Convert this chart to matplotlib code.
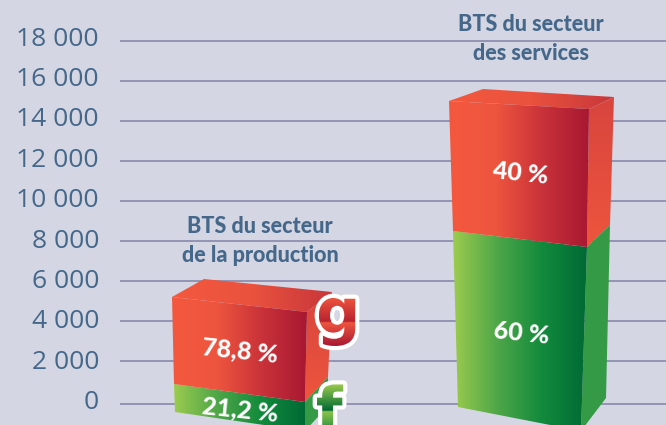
import numpy as np
import matplotlib
matplotlib.use('Agg')
import matplotlib.pyplot as plt
from matplotlib.colors import LinearSegmentedColormap
from matplotlib.patches import PathPatch, Polygon
from matplotlib.font_manager import FontProperties
from matplotlib.textpath import TextPath
from matplotlib.transforms import Affine2D

# y axis
tick_values = [0, 2000, 4000, 6000, 8000, 10000, 12000, 14000, 16000, 18000]
tick_labels = ['0', '2 000', '4 000', '6 000', '8 000', '10 000', '12 000', '14 000', '16 000', '18 000']

# bars, values read at the left edge of the front face
bar_names = ['BTS du secteur\nde la production', 'BTS du secteur\ndes services']
bar_top = [5185, 14985]
bar_split = [835, 8485]
bar_bottom = [-565, -315]
red_labels = ['78,8 %', '40 %']
green_labels = ['21,2 %', '60 %']

BG = '#d4d6e3'
GRID = '#8e8eb0'
BLUE = '#45688a'
PX = 50  # value units for one pixel
ZERO = 400.7  # pixel row of value 0


def py(row):
    return (ZERO - row) * PX


red_map = LinearSegmentedColormap.from_list('r', ['#f4593f', '#ee553e', '#c93239', '#a81832'])
green_map = LinearSegmentedColormap.from_list('g', ['#9ccb4e', '#4ea648', '#128a3c', '#006a35'])
top_map = LinearSegmentedColormap.from_list('t', ['#f4593f', '#ea523e', '#c7363a'])
side_map = LinearSegmentedColormap.from_list('s', ['#d8453d', '#ee553e'])
g_map = LinearSegmentedColormap.from_list('gg', [(0, '#f0563f'), (0.5, '#b8222f'), (0.52, '#ef5540'), (1, '#a81832')])
f_map = LinearSegmentedColormap.from_list('ff', [(0, '#9ccb4e'), (0.55, '#006a35'), (0.58, '#8cc24c'), (1, '#1a8a3c')])

fig = plt.figure(figsize=(6.66, 4.25), dpi=100, facecolor=BG)
ax = fig.add_axes([0, 0, 1, 1])
ax.set_facecolor(BG)
ax.axis('off')


def grad(verts, cmap, horizontal=True):
    # gradient image clipped on a polygon
    xs = [v[0] for v in verts]
    ys = [v[1] for v in verts]
    data = np.linspace(0, 1, 256).reshape(1, -1) if horizontal else np.linspace(0, 1, 256).reshape(-1, 1)
    im = ax.imshow(data, cmap=cmap, extent=[min(xs), max(xs), min(ys), max(ys)],
                   aspect='auto', zorder=3, interpolation='bilinear')
    im.set_clip_path(Polygon(verts, closed=True, transform=ax.transData))


for v, lab in zip(tick_values, tick_labels):
    # the zero line sits a bit lower than the regular step in the original
    line_y = v - 3.6 * PX if v == 0 else v
    ax.plot([120, 666], [line_y, line_y], color=GRID, lw=1.3, zorder=1, solid_capstyle='butt')
    ax.text(99, v * 1.01 - 2 * PX, lab, ha='right', va='center', color=BLUE, fontsize=19, family='Open Sans')

# geometry of each bar, pixel offsets for the skew
left = [(172, 174, 175), (449, 453, 458)]
right = [(307, 305, 305), (589, 587, 581)]
drop = [(15, 18, 19), (8, 16, 24)]
depth = [25, 23, 23], [25, 23, 25]
rise = [20, 25, 25], [12, 22, 33]
back = [(32, 18), (34, 12)]
red_pos = [(240, 351), (520, 173)]
green_pos = [(240, 410), (521, 333)]
title_pos = [(260, 241), (531, 39)]

for i in range(2):
    t, s, b = bar_top[i], bar_split[i], bar_bottom[i]
    lx, rx, dr, dp, rs = left[i], right[i], drop[i], depth[i], rise[i]
    tl = (lx[0], t)
    tr = (rx[0], t - dr[0] * PX)
    ml = (lx[1], s)
    mr = (rx[1], s - dr[1] * PX)
    bl = (lx[2], b)
    br = (rx[2], b - dr[2] * PX)
    # top face
    top = [tl, (lx[0] + back[i][0], t + back[i][1] * PX), (rx[0] + dp[0], tr[1] + rs[0] * PX), tr]
    grad(top, top_map)
    # right side
    sr = [tr, top[2], (rx[1] + dp[1], mr[1] + rs[1] * PX), mr]
    grad(sr, side_map, horizontal=False)
    sg = [mr, sr[2], (rx[2] + dp[2], br[1] + rs[2] * PX), br]
    ax.add_patch(Polygon(sg, closed=True, fc='#349a45', ec='none', zorder=3))
    # front
    grad([ml, mr, br, bl], green_map)
    grad([tl, tr, mr, ml], red_map)

    ax.text(red_pos[i][0], py(red_pos[i][1]), red_labels[i], color='white', fontsize=18, fontweight='black',
            family='Lato', ha='center', va='center', rotation=-6, zorder=5)
    ax.text(green_pos[i][0], py(green_pos[i][1]), green_labels[i], color='white', fontsize=18, fontweight='black',
            family='Lato', ha='center', va='center', rotation=-6, zorder=5)
    ax.text(title_pos[i][0], py(title_pos[i][1]), bar_names[i], color=BLUE, fontsize=15.5, fontweight='black',
            family='Lato', ha='center', va='center', linespacing=1.45, zorder=2)


def letter(ch, x, row, size, cmap):
    # outlined letter with a vertical gradient
    fp = FontProperties(family='DejaVu Sans', weight='bold')
    tp = TextPath((0, 0), ch, size=size, prop=fp)
    ext = tp.get_extents()
    tr = Affine2D().translate(-ext.x0 - ext.width / 2, -ext.y0 - ext.height / 2).scale(1, PX).translate(x, py(row))
    p = tr.transform_path(tp)
    ax.add_patch(PathPatch(p, fc='white', ec='white', lw=6, zorder=6, joinstyle='round'))
    box = p.get_extents()
    im = ax.imshow(np.linspace(0, 1, 256).reshape(-1, 1), cmap=cmap,
                   extent=[box.x0, box.x1, box.y0, box.y1], aspect='auto', zorder=7)
    im.set_clip_path(PathPatch(p, transform=ax.transData))


letter('g', 337, 322, 62, g_map)
letter('f', 330, 408, 62, f_map)

ax.set_xlim(0, 666)
ax.set_ylim(py(425), py(0))
fig.savefig('out.png', dpi=100, facecolor=BG)
